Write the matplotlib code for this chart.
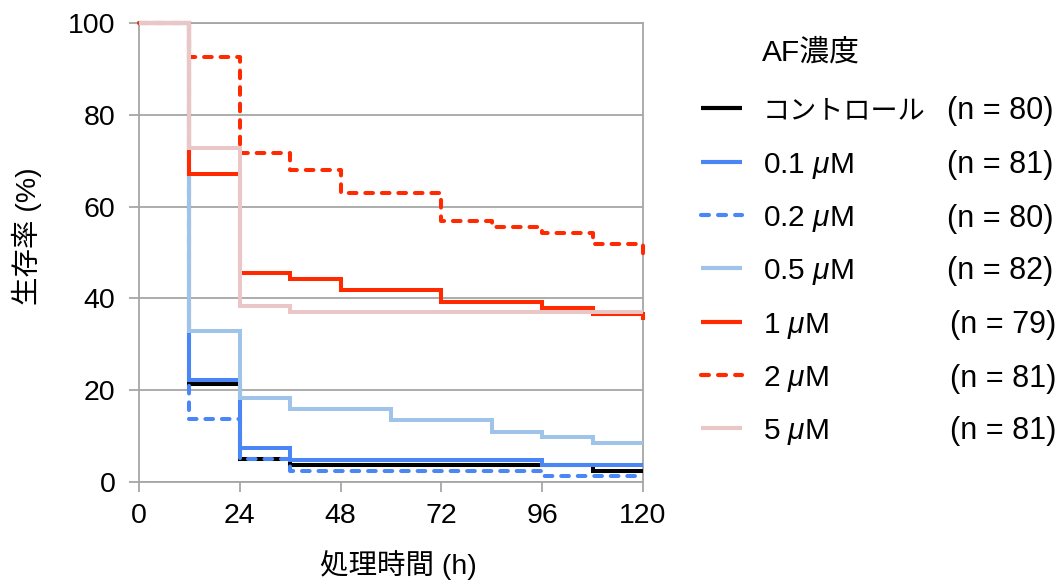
import matplotlib
matplotlib.use("Agg")
import matplotlib.pyplot as plt
from matplotlib.lines import Line2D

plt.rcParams['font.family'] = ['Liberation Sans', 'Noto Sans CJK JP', 'DejaVu Sans']
plt.rcParams['mathtext.fontset'] = 'custom'
plt.rcParams['mathtext.it'] = 'Liberation Sans:italic'
plt.rcParams['mathtext.rm'] = 'Liberation Sans'

# Time points (h); each value holds from its time point until the next one
hours = [0, 12, 24, 36, 48, 60, 72, 84, 96, 108, 120]

# Survival (%) per concentration group
surv_control = [100, 21.25, 5.0, 3.75, 3.75, 3.75, 3.75, 3.75, 3.75, 2.5, 2.5]
surv_01 = [100, 22.2, 7.4, 4.9, 4.9, 4.9, 4.9, 4.9, 3.7, 3.7, 3.7]
surv_02 = [100, 13.75, 5.0, 2.5, 2.5, 2.5, 2.5, 2.5, 1.25, 1.25, 1.25]
surv_05 = [100, 32.9, 18.3, 15.85, 15.85, 13.4, 13.4, 11.0, 9.76, 8.5, 8.5]
surv_1 = [100, 67.1, 45.6, 44.3, 41.8, 41.8, 39.2, 39.2, 38.0, 36.7, 35.4]
surv_2 = [100, 92.6, 71.6, 67.9, 63.0, 63.0, 56.8, 55.6, 54.3, 51.9, 49.4]
surv_5 = [100, 72.8, 38.3, 37.0, 37.0, 37.0, 37.0, 37.0, 37.0, 37.0, 37.0]

labels = ['コントロール', '0.1 $\\mu$M', '0.2 $\\mu$M', '0.5 $\\mu$M', '1 $\\mu$M', '2 $\\mu$M', '5 $\\mu$M']
n_labels = ['(n = 80)', '(n = 81)', '(n = 80)', '(n = 82)', '(n = 79)', '(n = 81)', '(n = 81)']
series = [surv_control, surv_01, surv_02, surv_05, surv_1, surv_2, surv_5]
colors = ['#000000', '#4a86f6', '#4a86f6', '#a0c3ea', '#ff2a00', '#ff2a00', '#ebc6c6']
dashed = [False, False, True, False, False, True, False]

xticks = [0, 24, 48, 72, 96, 120]
yticks = [0, 20, 40, 60, 80, 100]

W, H = 1064, 583
fig = plt.figure(figsize=(W / 100, H / 100), dpi=100)
ax = fig.add_axes([139 / W, 1 - 482 / H, (643 - 139) / W, (482 - 23) / H])

grid_c = '#a6a6a6'
LW = 2.9
DASH = (1.9, 2.2)


def style_kwargs(i, lw=LW):
    kw = dict(color=colors[i], lw=lw, solid_joinstyle='miter', solid_capstyle='butt')
    if dashed[i]:
        kw.update(linestyle=(0, DASH), dash_capstyle='round', dash_joinstyle='round')
    return kw


for i, vals in enumerate(series):
    ax.step(hours, vals, where='post', clip_on=False, zorder=3 + i, **style_kwargs(i))

ax.set_xlim(0, 120)
ax.set_ylim(0, 100)
ax.set_xticks(xticks)
ax.set_yticks(yticks)
ax.yaxis.grid(True, color=grid_c, lw=1.3)
ax.set_axisbelow(True)
for s in ax.spines.values():
    s.set_color(grid_c)
    s.set_linewidth(1.3)
ax.tick_params(axis='both', colors=grid_c, width=1.3, length=7, labelsize=20.5,
               labelcolor='black')
ax.tick_params(axis='x', pad=8)
ax.tick_params(axis='y', pad=10)

fig.text(398 / W, 1 - 565 / H, '処理時間 (h)', ha='center', va='center', fontsize=20.5)
fig.text(27 / W, 1 - 236 / H, '生存率 (%)', ha='center', va='center', rotation=90,
         fontsize=20.5)

# Legend
fig.text(762 / W, 1 - 53 / H, 'AF濃度', ha='left', va='center', fontsize=21.5)
row_y = [108, 162, 215, 268, 322, 375, 428]
for i, py in enumerate(row_y):
    y = 1 - py / H
    fig.add_artist(Line2D([701 / W, 742 / W], [y, y], transform=fig.transFigure,
                          **style_kwargs(i, lw=3.0)))
    size = 19.5 if i == 0 else 21.5
    fig.text(763 / W, y, labels[i], ha='left', va='center_baseline', fontsize=size)
    nx = 947 if i < 4 else 950
    fig.text(nx / W, y, n_labels[i], ha='left', va='center_baseline', fontsize=22)

fig.savefig('out.png', dpi=100)
